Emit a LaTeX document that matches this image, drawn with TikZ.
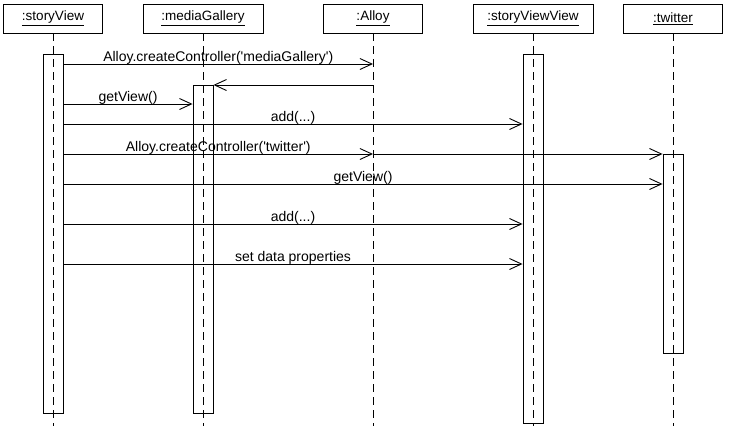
\documentclass[tikz,border=0pt]{standalone}
\usepackage{fontspec}
\setmainfont{Liberation Sans}[Ligatures=TeXOff]
\usetikzlibrary{arrows.meta,positioning}

\begin{document}
\begin{tikzpicture}[x=1pt,y=-1pt,->,>={Straight Barb[length=12pt,width=11pt]},line width=0.9pt,
    obj/.style={draw,-,minimum height=29pt,inner sep=0pt,font=\fontsize{13.5}{16}\selectfont},
    bar/.style={draw,-,minimum width=20pt,inner sep=0pt,anchor=north},
    life/.style={-,dash pattern=on 8pt off 5pt},
    lbl/.style={anchor=base,yshift=3pt,inner sep=0pt,font=\fontsize{14}{16}\selectfont}]
    \useasboundingbox (0,0) rectangle (731,426);
    % objects
    \node[obj,minimum width=99pt] (sv) at (53,18.5) {\underline{:storyView}};
    \node[obj,minimum width=120pt] (mg) at (203,18.5) {\underline{:mediaGallery}};
    \node[obj,minimum width=99pt] (alloy) at (373,18.5) {\underline{:Alloy}};
    \node[obj,minimum width=120pt] (svv) at (533,18.5) {\underline{:storyViewView}};
    \node[obj,minimum width=99pt] (tw) at (673,18.5) {\underline{:twitter}};

    % lifelines
    \coordinate (bot) at (0,426);
    \foreach \o in {sv,mg,alloy,svv,tw}
        \draw[life] (\o.south) -- (\o.south |- bot);

    % activations
    \node[bar,minimum height=359pt] (svA) at (sv.south |- 0,54) {};
    \node[bar,minimum height=328pt] (mgA) at (mg.south |- 0,85) {};
    \node[bar,minimum height=369pt] (svvA) at (svv.south |- 0,54) {};
    \node[bar,minimum height=199pt] (twA) at (tw.south |- 0,154) {};

    % messages
    \coordinate (m1) at (0,64);
    \coordinate (m2) at (0,85);
    \coordinate (m3) at (0,104);
    \coordinate (m4) at (0,124);
    \coordinate (m5) at (0,154);
    \coordinate (m6) at (0,184);
    \coordinate (m7) at (0,224);
    \coordinate (m8) at (0,264);

    \draw (svA.east |- m1) -- node[lbl] {Alloy.createController('mediaGallery')} (alloy.south |- m1);
    \draw (alloy.south |- m2) -- (mgA.east |- m2);
    \draw (svA.east |- m3) -- node[lbl] {getView()} (mgA.west |- m3);
    \draw (svA.east |- m4) -- node[lbl] {add(...)} (svvA.west |- m4);
    \draw (svA.east |- m5) -- node[lbl] {Alloy.createController('twitter')} (alloy.south |- m5);
    \draw (alloy.south |- m5) -- (twA.west |- m5);
    \draw (svA.east |- m6) -- node[lbl] {getView()} (twA.west |- m6);
    \draw (svA.east |- m7) -- node[lbl] {add(...)} (svvA.west |- m7);
    \draw (svA.east |- m8) -- node[lbl] {set data properties} (svvA.west |- m8);
\end{tikzpicture}
\end{document}
